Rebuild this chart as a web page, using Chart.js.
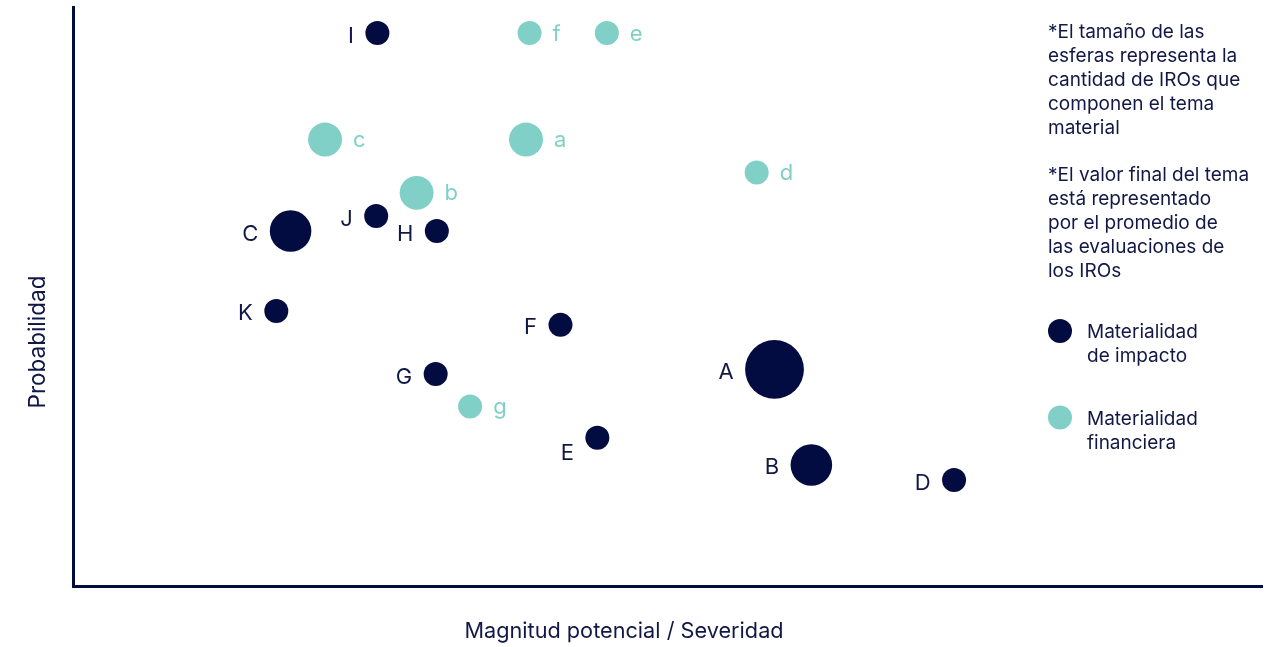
<!DOCTYPE html>
<html lang="es">
<head>
<meta charset="utf-8">
<title>Matriz de doble materialidad</title>
<script src="https://cdn.jsdelivr.net/npm/chart.js@4.4.1/dist/chart.umd.min.js"></script>
<style>
  html, body { margin: 0; padding: 0; background: #ffffff; }
  canvas { display: block; }
</style>
</head>
<body>
<canvas id="matriz" width="1284" height="647"></canvas>
<script>
// Temas de materialidad de impacto (etiqueta, severidad, probabilidad, cantidad de IROs)
const temasImpacto        = ['I', 'J', 'H', 'C', 'K', 'F', 'G', 'A', 'E', 'B', 'D'];
const severidadImpacto    = [2.56, 2.55, 3.06, 1.83, 1.71, 4.10, 3.05, 5.90, 4.41, 6.21, 7.41];
const probabilidadImpacto = [9.55, 6.39, 6.13, 6.13, 4.75, 4.51, 3.66, 3.74, 2.56, 2.09, 1.83];
const irosImpacto         = [1, 1, 1, 3, 1, 1, 1, 6, 1, 3, 1];

// Temas de materialidad financiera
const temasFinanciera        = ['f', 'e', 'c', 'a', 'b', 'd', 'g'];
const severidadFinanciera    = [3.84, 4.49, 2.12, 3.81, 2.89, 5.75, 3.34];
const probabilidadFinanciera = [9.55, 9.55, 7.71, 7.71, 6.79, 7.14, 3.10];
const irosFinanciera         = [1, 1, 2, 2, 2, 1, 1];

const tituloX = 'Magnitud potencial / Severidad';
const tituloY = 'Probabilidad';
const notaTamano = ['*El tamaño de las', 'esferas representa la', 'cantidad de IROs que', 'componen el tema', 'material'];
const notaValor  = ['*El valor final del tema', 'está representado', 'por el promedio de', 'las evaluaciones de', 'los IROs'];
const leyendaImpacto   = ['Materialidad', 'de impacto'];
const leyendaFinanciera = ['Materialidad', 'financiera'];

const AZUL = '#030c40';
const TURQUESA = '#80d0c7';
const TEXTO = '#121846';
const FUENTE = 'Inter, "Open Sans", sans-serif';

// El área de la esfera es proporcional a la cantidad de IROs
const radioEsfera = n => 12 * Math.sqrt(n);

const puntos = (xs, ys, ns) => xs.map((x, i) => ({ x, y: ys[i], r: radioEsfera(ns[i]) }));

// Etiquetas junto a cada esfera: impacto a la izquierda, financiera a la derecha
const ajusteVertical = { E: 13 };
const etiquetas = {
  id: 'etiquetas',
  afterDatasetsDraw(chart) {
    const ctx = chart.ctx;
    ctx.save();
    ctx.font = '22px ' + FUENTE;
    ctx.textBaseline = 'alphabetic';
    chart.data.datasets.forEach((ds, i) => {
      const meta = chart.getDatasetMeta(i);
      meta.data.forEach((el, j) => {
        const txt = ds.etiquetas[j];
        const r = el.options.radius;
        const extra = ajusteVertical[txt] || 0;
        ctx.fillStyle = ds.colorEtiqueta;
        if (ds.ladoEtiqueta === 'izquierda') {
          ctx.textAlign = 'right';
          ctx.fillText(txt, el.x - r - 11.5, el.y + 9.5 + extra);
        } else {
          ctx.textAlign = 'left';
          ctx.fillText(txt, el.x + r + 11, el.y + 7.5 + extra);
        }
      });
    });
    ctx.restore();
  }
};

// Títulos de ejes, notas y leyenda a la derecha
const textos = {
  id: 'textos',
  afterDraw(chart) {
    const ctx = chart.ctx;
    ctx.save();
    ctx.fillStyle = TEXTO;
    ctx.textBaseline = 'alphabetic';

    ctx.font = '21.7px ' + FUENTE;
    ctx.textAlign = 'center';
    ctx.fillText(tituloX, 624, 638);

    ctx.font = '22.5px ' + FUENTE;
    ctx.save();
    ctx.translate(45, 342);
    ctx.rotate(-Math.PI / 2);
    ctx.fillText(tituloY, 0, 0);
    ctx.restore();

    ctx.font = '19px ' + FUENTE;
    ctx.textAlign = 'left';
    notaTamano.forEach((l, i) => ctx.fillText(l, 1048, 38 + i * 24));
    notaValor.forEach((l, i) => ctx.fillText(l, 1048, 181 + i * 24));

    const entradas = [
      { color: AZUL, lineas: leyendaImpacto, cy: 331 },
      { color: TURQUESA, lineas: leyendaFinanciera, cy: 417.5 }
    ];
    entradas.forEach(e => {
      ctx.fillStyle = e.color;
      ctx.beginPath();
      ctx.arc(1060, e.cy, 12, 0, Math.PI * 2);
      ctx.fill();
      ctx.fillStyle = TEXTO;
      e.lineas.forEach((l, i) => ctx.fillText(l, 1087, e.cy + 7 + i * 24));
    });
    ctx.restore();
  }
};

new Chart(document.getElementById('matriz'), {
  type: 'bubble',
  data: {
    datasets: [
      {
        label: leyendaImpacto.join(' '),
        data: puntos(severidadImpacto, probabilidadImpacto, irosImpacto),
        etiquetas: temasImpacto,
        ladoEtiqueta: 'izquierda',
        colorEtiqueta: TEXTO,
        backgroundColor: AZUL,
        borderWidth: 0
      },
      {
        label: leyendaFinanciera.join(' '),
        data: puntos(severidadFinanciera, probabilidadFinanciera, irosFinanciera),
        etiquetas: temasFinanciera,
        ladoEtiqueta: 'derecha',
        colorEtiqueta: TURQUESA,
        backgroundColor: TURQUESA,
        borderWidth: 0
      }
    ]
  },
  options: {
    responsive: false,
    animation: false,
    events: [],
    layout: { autoPadding: false, padding: { left: 73, top: 7, right: 22, bottom: 61 } },
    plugins: { legend: { display: false }, tooltip: { enabled: false } },
    scales: {
      x: {
        min: 0, max: 10,
        ticks: { display: false },
        grid: { display: false, drawTicks: false },
        border: { display: true, color: AZUL, width: 3 }
      },
      y: {
        min: 0, max: 10,
        ticks: { display: false },
        grid: { display: false, drawTicks: false },
        border: { display: true, color: AZUL, width: 3 }
      }
    }
  },
  plugins: [etiquetas, textos]
});
</script>
</body>
</html>
